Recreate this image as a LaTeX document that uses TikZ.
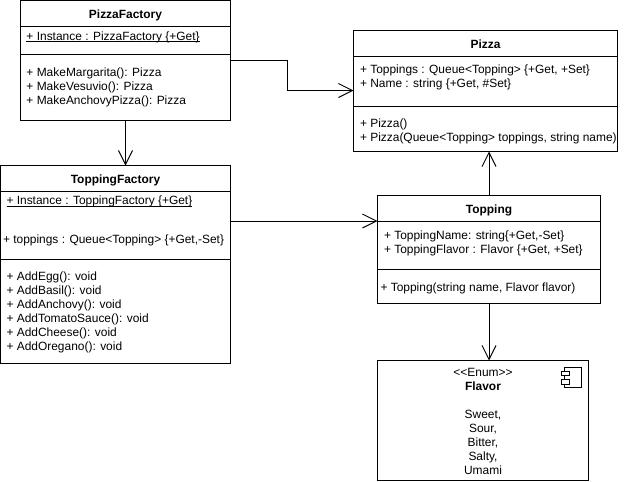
\documentclass[tikz,border=0pt]{standalone}
\usepackage{fontspec}
\setmainfont{Liberation Sans}
\usetikzlibrary{arrows.meta, positioning}
\tikzset{
    boxnode/.style = {draw, rectangle, inner sep = 0em, outer sep = 0em, anchor=north west},
    headnode/.style = {boxnode, text height=10pt, text depth=0pt, font=\fontsize{11.95}{14}\selectfont\bfseries},
    membernode/.style = {draw=none, fill=none, rectangle, inner sep = 0em, outer sep = 0em,
      anchor=west, align=left, font=\fontsize{11.95}{14}\selectfont},
    iconpart/.style = {draw, fill=white, line width=0.8pt},
    connect/.style = {black, -{Straight Barb[length=14pt, width=14pt, line width=1pt]}}
}

\begin{document}
\begin{tikzpicture}[x=1pt, y=-1pt, line width=1pt, node distance=0pt]
    \useasboundingbox (0,0) rectangle (625,482);

    \node [name=pfhead, headnode, minimum width=210pt, minimum height=25.5pt] at (20.5,0.5) {PizzaFactory};
    \node [name=pfattrs, boxnode, minimum width=210pt, minimum height=28pt, below=of pfhead] {};
    \node [name=pfbody, boxnode, minimum width=210pt, minimum height=66pt, below=of pfattrs] {};

    \node [name=tfhead, headnode, minimum width=230pt, minimum height=25.5pt] at (0.5,165.5) {ToppingFactory};
    \node [name=tfattrs, boxnode, minimum width=230pt, minimum height=68pt, below=of tfhead] {};
    \node [name=tfbody, boxnode, minimum width=230pt, minimum height=104pt, below=of tfattrs] {};

    \node [name=pizzahead, headnode, minimum width=264pt, minimum height=25.5pt] at (353.5,30.5) {Pizza};
    \node [name=pizzaattrs, boxnode, minimum width=264pt, minimum height=50pt, below=of pizzahead] {};
    \node [name=pizzabody, boxnode, minimum width=264pt, minimum height=45.5pt, below=of pizzaattrs] {};

    \node [name=tophead, headnode, minimum width=223pt, minimum height=25.5pt] at (377.5,195.5) {Topping};
    \node [name=topattrs, boxnode, minimum width=223pt, minimum height=48pt, below=of tophead] {};
    \node [name=topbody, boxnode, minimum width=223pt, minimum height=34pt, below=of topattrs] {};

    \node [name=flavor, boxnode, minimum width=211pt, minimum height=120pt] at (377.5,360.5) {};
    \node [name=flavortext, membernode, anchor=center, align=center, yshift=-1pt] at (flavor.center)
        {<{}<Enum>{}>\\\textbf{Flavor}\\\mbox{}\\Sweet,\\Sour,\\Bitter,\\Salty,\\Umami};

    \node [name=pfinstance, membernode, right=6pt of pfattrs.west, yshift=-1pt] {\underline{\smash{+ Instance : PizzaFactory \{+Get\}}}};
    \node [name=pfmake, membernode, right=6pt of pfbody.west]
        {+ MakeMargarita(): Pizza\\+ MakeVesuvio(): Pizza\\+ MakeAnchovyPizza(): Pizza};

    \node [name=tfinstance, membernode, right=6pt of tfattrs.west, yshift=19.5pt] {\underline{\smash{+ Instance : ToppingFactory \{+Get\}}}};
    \node [name=tftoppings, membernode, right=2.5pt of tfattrs.west, yshift=-15pt] {+ toppings : Queue<Topping> \{+Get,-Set\}};
    \node [name=tfadd, membernode, right=6pt of tfbody.west, yshift=-1pt]
        {+ AddEgg(): void\\+ AddBasil(): void\\+ AddAnchovy(): void\\+ AddTomatoSauce(): void\\+ AddCheese(): void\\+ AddOregano(): void};

    \node [name=pizzamembers, membernode, right=6.5pt of pizzaattrs.west, yshift=3.5pt]
        {+ Toppings : Queue<Topping> \{+Get, +Set\}\\+ Name : string \{+Get, \#Set\}};
    \node [name=pizzactors, membernode, right=6.5pt of pizzabody.west, yshift=-2.75pt]
        {+ Pizza()\\+ Pizza(Queue<Topping> toppings, string name)};

    \node [name=topmembers, membernode, right=6.5pt of topattrs.west, yshift=2pt]
        {+ ToppingName: string\{+Get,-Set\}\\+ ToppingFlavor : Flavor \{+Get, +Set\}};
    \node [name=topctor, membernode, right=3pt of topbody.west, yshift=-2pt] {+ Topping(string name, Flavor flavor)};

    \draw [iconpart] (564,367.5) rectangle (581.5,387.5);
    \draw [iconpart] (561,371) rectangle (569,375.5);
    \draw [iconpart] (561,379.5) rectangle (569,384);

    \draw [connect] ([yshift=-6.5pt]pfbody.north east) -- ++(57,0) |- ([yshift=-9.5pt]pizzaattrs.west);
    \draw [connect] (pfbody.south) -- (pfbody.south |- tfhead.north);
    \draw [connect] (tfattrs.east |- topattrs.north west) -- (topattrs.north west);
    \draw [connect] (tophead.north) -- (tophead.north |- pizzabody.south);
    \draw [connect] (topbody.south) -- (topbody.south |- flavor.north);
\end{tikzpicture}
\end{document}
